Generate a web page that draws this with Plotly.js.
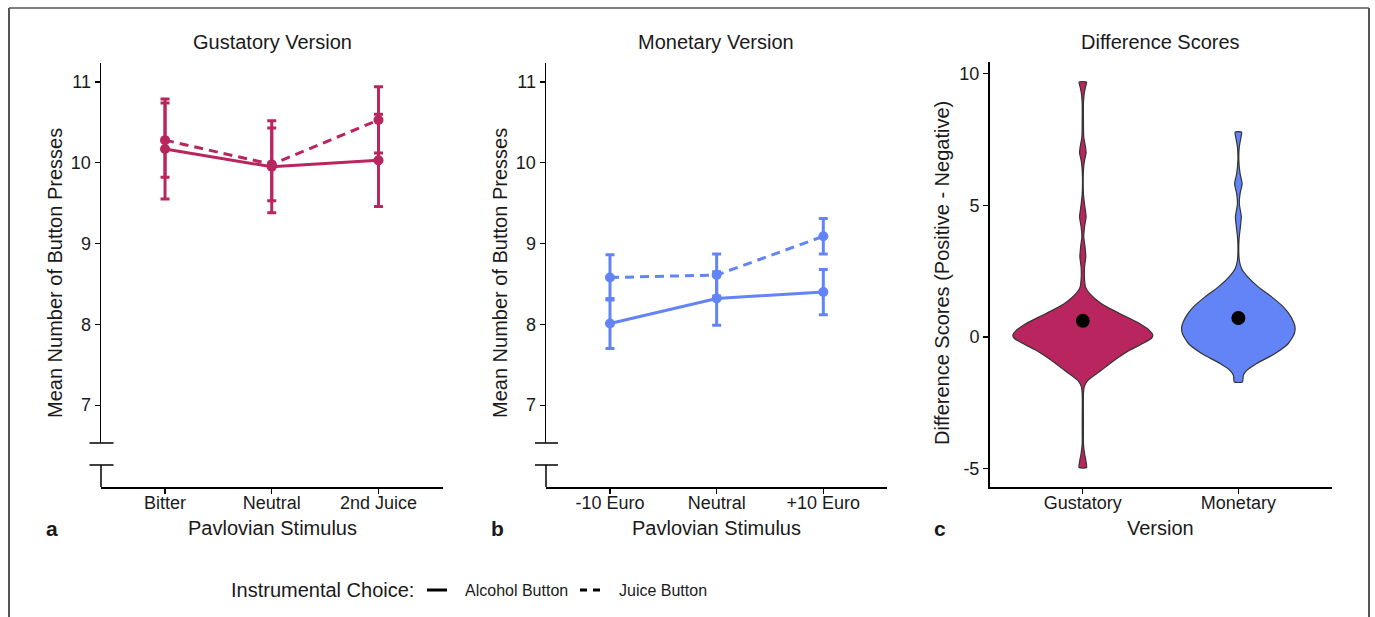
<!DOCTYPE html>
<html>
<head>
<meta charset="utf-8">
<script src="https://cdn.plot.ly/plotly-3.0.1.min.js"></script>
<style>html,body{margin:0;padding:0;background:#fff;}#chart{width:1375px;height:617px;}</style>
</head>
<body>
<div id="chart"></div>
<script>
// ---------- data ----------
const gustCats = ['Bitter', 'Neutral', '2nd Juice'];
const gustAlcMean = [10.17, 9.95, 10.03];
const gustAlcErr = [0.62, 0.57, 0.57];
const gustJuiceMean = [10.28, 9.98, 10.53];
const gustJuiceErr = [0.46, 0.45, 0.41];

const monCats = ['-10 Euro', 'Neutral', '+10 Euro'];
const monAlcMean = [8.01, 8.32, 8.40];
const monAlcErr = [0.31, 0.33, 0.28];
const monJuiceMean = [8.58, 8.61, 9.09];
const monJuiceErr = [0.28, 0.26, 0.22];

const yTicks = [7, 8, 9, 10, 11];

const versionCats = ['Gustatory', 'Monetary'];
const diffTicks = [-5, 0, 5, 10];
// violin outline: difference score level and half-width (in category units)
const gustViolinY = [9.68, 9.49, 9.24, 8.86, 8.23, 7.59, 7.22, 6.99, 6.71, 6.33, 5.44, 4.94, 4.56, 4.18, 3.80, 3.48, 3.04, 2.66, 2.28, 1.90, 1.65, 1.27, 0.89, 0.51, 0.25, 0.06, -0.06, -0.25, -0.51, -0.89, -1.27, -1.65, -1.90, -2.15, -3.42, -4.05, -4.43, -4.68, -4.96];
const gustViolinW = [0.024, 0.017, 0.009, 0.004, 0.004, 0.006, 0.017, 0.021, 0.011, 0.004, 0.004, 0.013, 0.021, 0.011, 0.006, 0.013, 0.019, 0.011, 0.010, 0.017, 0.043, 0.118, 0.236, 0.364, 0.428, 0.450, 0.440, 0.385, 0.300, 0.203, 0.118, 0.032, 0.009, 0.004, 0.004, 0.004, 0.011, 0.019, 0.024];
const monViolinY = [7.78, 7.59, 7.22, 6.71, 6.20, 5.82, 5.44, 5.06, 4.56, 4.18, 3.67, 2.91, 2.59, 2.28, 1.90, 1.52, 1.14, 0.76, 0.38, 0.13, -0.25, -0.63, -1.01, -1.27, -1.46, -1.71];
const monViolinW = [0.021, 0.017, 0.006, 0.003, 0.011, 0.024, 0.011, 0.006, 0.019, 0.013, 0.004, 0.006, 0.021, 0.060, 0.128, 0.214, 0.289, 0.338, 0.364, 0.360, 0.321, 0.236, 0.118, 0.054, 0.032, 0.026];
const diffMeans = [0.61, 0.72];
const diffMeanErr = [0.22, 0.18];

// ---------- styling ----------
const W = 1375, H = 617;
const RED = '#B8255F', BLUE = '#6284F7', INK = '#1a1a1a';
const FONT = 'Liberation Sans, Arial, sans-serif';
const px = x => x / W;
const py = y => 1 - y / H;

function lineTrace(xa, ya, y, err, color, dash) {
  return {
    type: 'scatter', mode: 'lines+markers', xaxis: xa, yaxis: ya,
    x: y.map((_, i) => i), y: y,
    line: {color: color, width: 3, dash: dash},
    marker: {color: color, size: 10},
    error_y: {type: 'data', array: err, visible: true, color: color, thickness: 3, width: 4.5},
    showlegend: false, hoverinfo: 'y'
  };
}

function violinTrace(center, ys, ws, color) {
  const xs = [], yy = [];
  for (let i = 0; i < ys.length; i++) { xs.push(center + ws[i]); yy.push(ys[i]); }
  for (let i = ys.length - 1; i >= 0; i--) { xs.push(center - ws[i]); yy.push(ys[i]); }
  xs.push(xs[0]); yy.push(yy[0]);
  return {
    type: 'scatter', mode: 'lines', xaxis: 'x3', yaxis: 'y3',
    x: xs, y: yy, fill: 'toself', fillcolor: color,
    line: {color: '#333333', width: 1.2, shape: 'spline', smoothing: 0.6},
    showlegend: false, hoverinfo: 'skip'
  };
}

const traces = [
  lineTrace('x', 'y', gustAlcMean, gustAlcErr, RED, 'solid'),
  lineTrace('x', 'y', gustJuiceMean, gustJuiceErr, RED, '9px,6px'),
  lineTrace('x2', 'y2', monAlcMean, monAlcErr, BLUE, 'solid'),
  lineTrace('x2', 'y2', monJuiceMean, monJuiceErr, BLUE, '9px,6px'),
  violinTrace(0, gustViolinY, gustViolinW, RED),
  violinTrace(1, monViolinY, monViolinW, BLUE),
  {
    type: 'scatter', mode: 'markers', xaxis: 'x3', yaxis: 'y3',
    x: diffMeans.map((_, i) => i), y: diffMeans,
    marker: {color: '#000', size: 14},
    error_y: {type: 'data', array: diffMeanErr, visible: true, color: '#000', thickness: 2, width: 0},
    showlegend: false, hoverinfo: 'y'
  }
];

const axisCommon = {
  showline: true, linecolor: '#000', linewidth: 1.5, ticks: 'outside', ticklen: 5,
  tickwidth: 1.2, tickcolor: '#000', showgrid: false, zeroline: false,
  tickfont: {family: FONT, size: 18, color: INK}, fixedrange: true
};
const xAxisExtra = {ticklabelstandoff: -6};

const xPos = py(487);
const layout = {
  width: W, height: H, margin: {l: 0, r: 0, t: 0, b: 0},
  paper_bgcolor: '#fff', plot_bgcolor: 'rgba(0,0,0,0)',
  font: {family: FONT, color: INK},
  xaxis: Object.assign({}, axisCommon, xAxisExtra, {domain: [px(101), px(442.5)], range: [-0.6, 2.6],
    tickvals: [0, 1, 2], ticktext: gustCats, anchor: 'free', position: xPos}),
  yaxis: Object.assign({}, axisCommon, {domain: [py(443), py(63)], range: [6.531, 11.235],
    tickvals: yTicks, anchor: 'x'}),
  xaxis2: Object.assign({}, axisCommon, xAxisExtra, {domain: [px(546), px(887.3)], range: [-0.6, 2.6],
    tickvals: [0, 1, 2], ticktext: monCats, anchor: 'free', position: xPos}),
  yaxis2: Object.assign({}, axisCommon, {domain: [py(443), py(63)], range: [6.531, 11.235],
    tickvals: yTicks, anchor: 'x2'}),
  xaxis3: Object.assign({}, axisCommon, xAxisExtra, {domain: [px(989.5), px(1331.7)], range: [-0.6, 1.6],
    tickvals: [0, 1], ticktext: versionCats, anchor: 'y3'}),
  yaxis3: Object.assign({}, axisCommon, {domain: [py(487), py(62)], range: [-5.70, 10.44],
    tickvals: diffTicks, ticktext: diffTicks.map(String), anchor: 'x3'}),
  shapes: [],
  annotations: []
};

function seg(x0, y0, x1, y1, w, dash, color) {
  layout.shapes.push({type: 'line', xref: 'paper', yref: 'paper',
    x0: px(x0), y0: py(y0), x1: px(x1), y1: py(y1),
    line: {color: color || '#000', width: w, dash: dash || 'solid'}});
}
// axis breaks
[[101, 89.5, 113.5], [546, 535, 558]].forEach(([ax, l, r]) => {
  seg(l, 443, r, 443, 1.5);
  seg(l, 465, r, 465, 1.5);
  seg(ax, 465, ax, 487, 1.5);
});
// outer frame
seg(9, 8, 1369, 8, 1.5, 'solid', '#555');
seg(9, 8, 9, 617, 2, 'solid', '#555');
seg(1369, 8, 1369, 617, 2, 'solid', '#555');

function txt(text, x, y, size, opts) {
  layout.annotations.push(Object.assign({
    text: text, xref: 'paper', yref: 'paper', x: px(x), y: py(y),
    showarrow: false, xanchor: 'center', yanchor: 'middle',
    font: {family: FONT, size: size, color: INK}
  }, opts || {}));
}
const TS = 20;
// panel titles
txt('Gustatory Version', 272, 42, TS);
txt('Monetary Version', 716, 42, TS);
txt('Difference Scores', 1160, 42, TS);
// axis titles
txt('Mean Number of Button Presses', 55, 273, TS, {textangle: -90});
txt('Mean Number of Button Presses', 500, 273, TS, {textangle: -90});
txt('Difference Scores (Positive - Negative)', 942, 273, TS, {textangle: -90});
txt('Pavlovian Stimulus', 272, 528, TS);
txt('Pavlovian Stimulus', 716, 528, TS);
txt('Version', 1160, 528, TS);
// panel letters
txt('<b>a</b>', 52, 528, 21);
txt('<b>b</b>', 497, 528, 21);
txt('<b>c</b>', 940, 528, 21);
// legend
txt('Instrumental Choice:', 229, 590, TS, {xanchor: 'left'});
seg(427, 590, 447, 590, 3);
txt('Alcohol Button', 463, 590, 16, {xanchor: 'left'});
seg(580, 590, 600, 590, 3, '7px,6px');
txt('Juice Button', 617, 590, 16, {xanchor: 'left'});

Plotly.newPlot('chart', traces, layout, {displayModeBar: false, staticPlot: true});
</script>
</body>
</html>
